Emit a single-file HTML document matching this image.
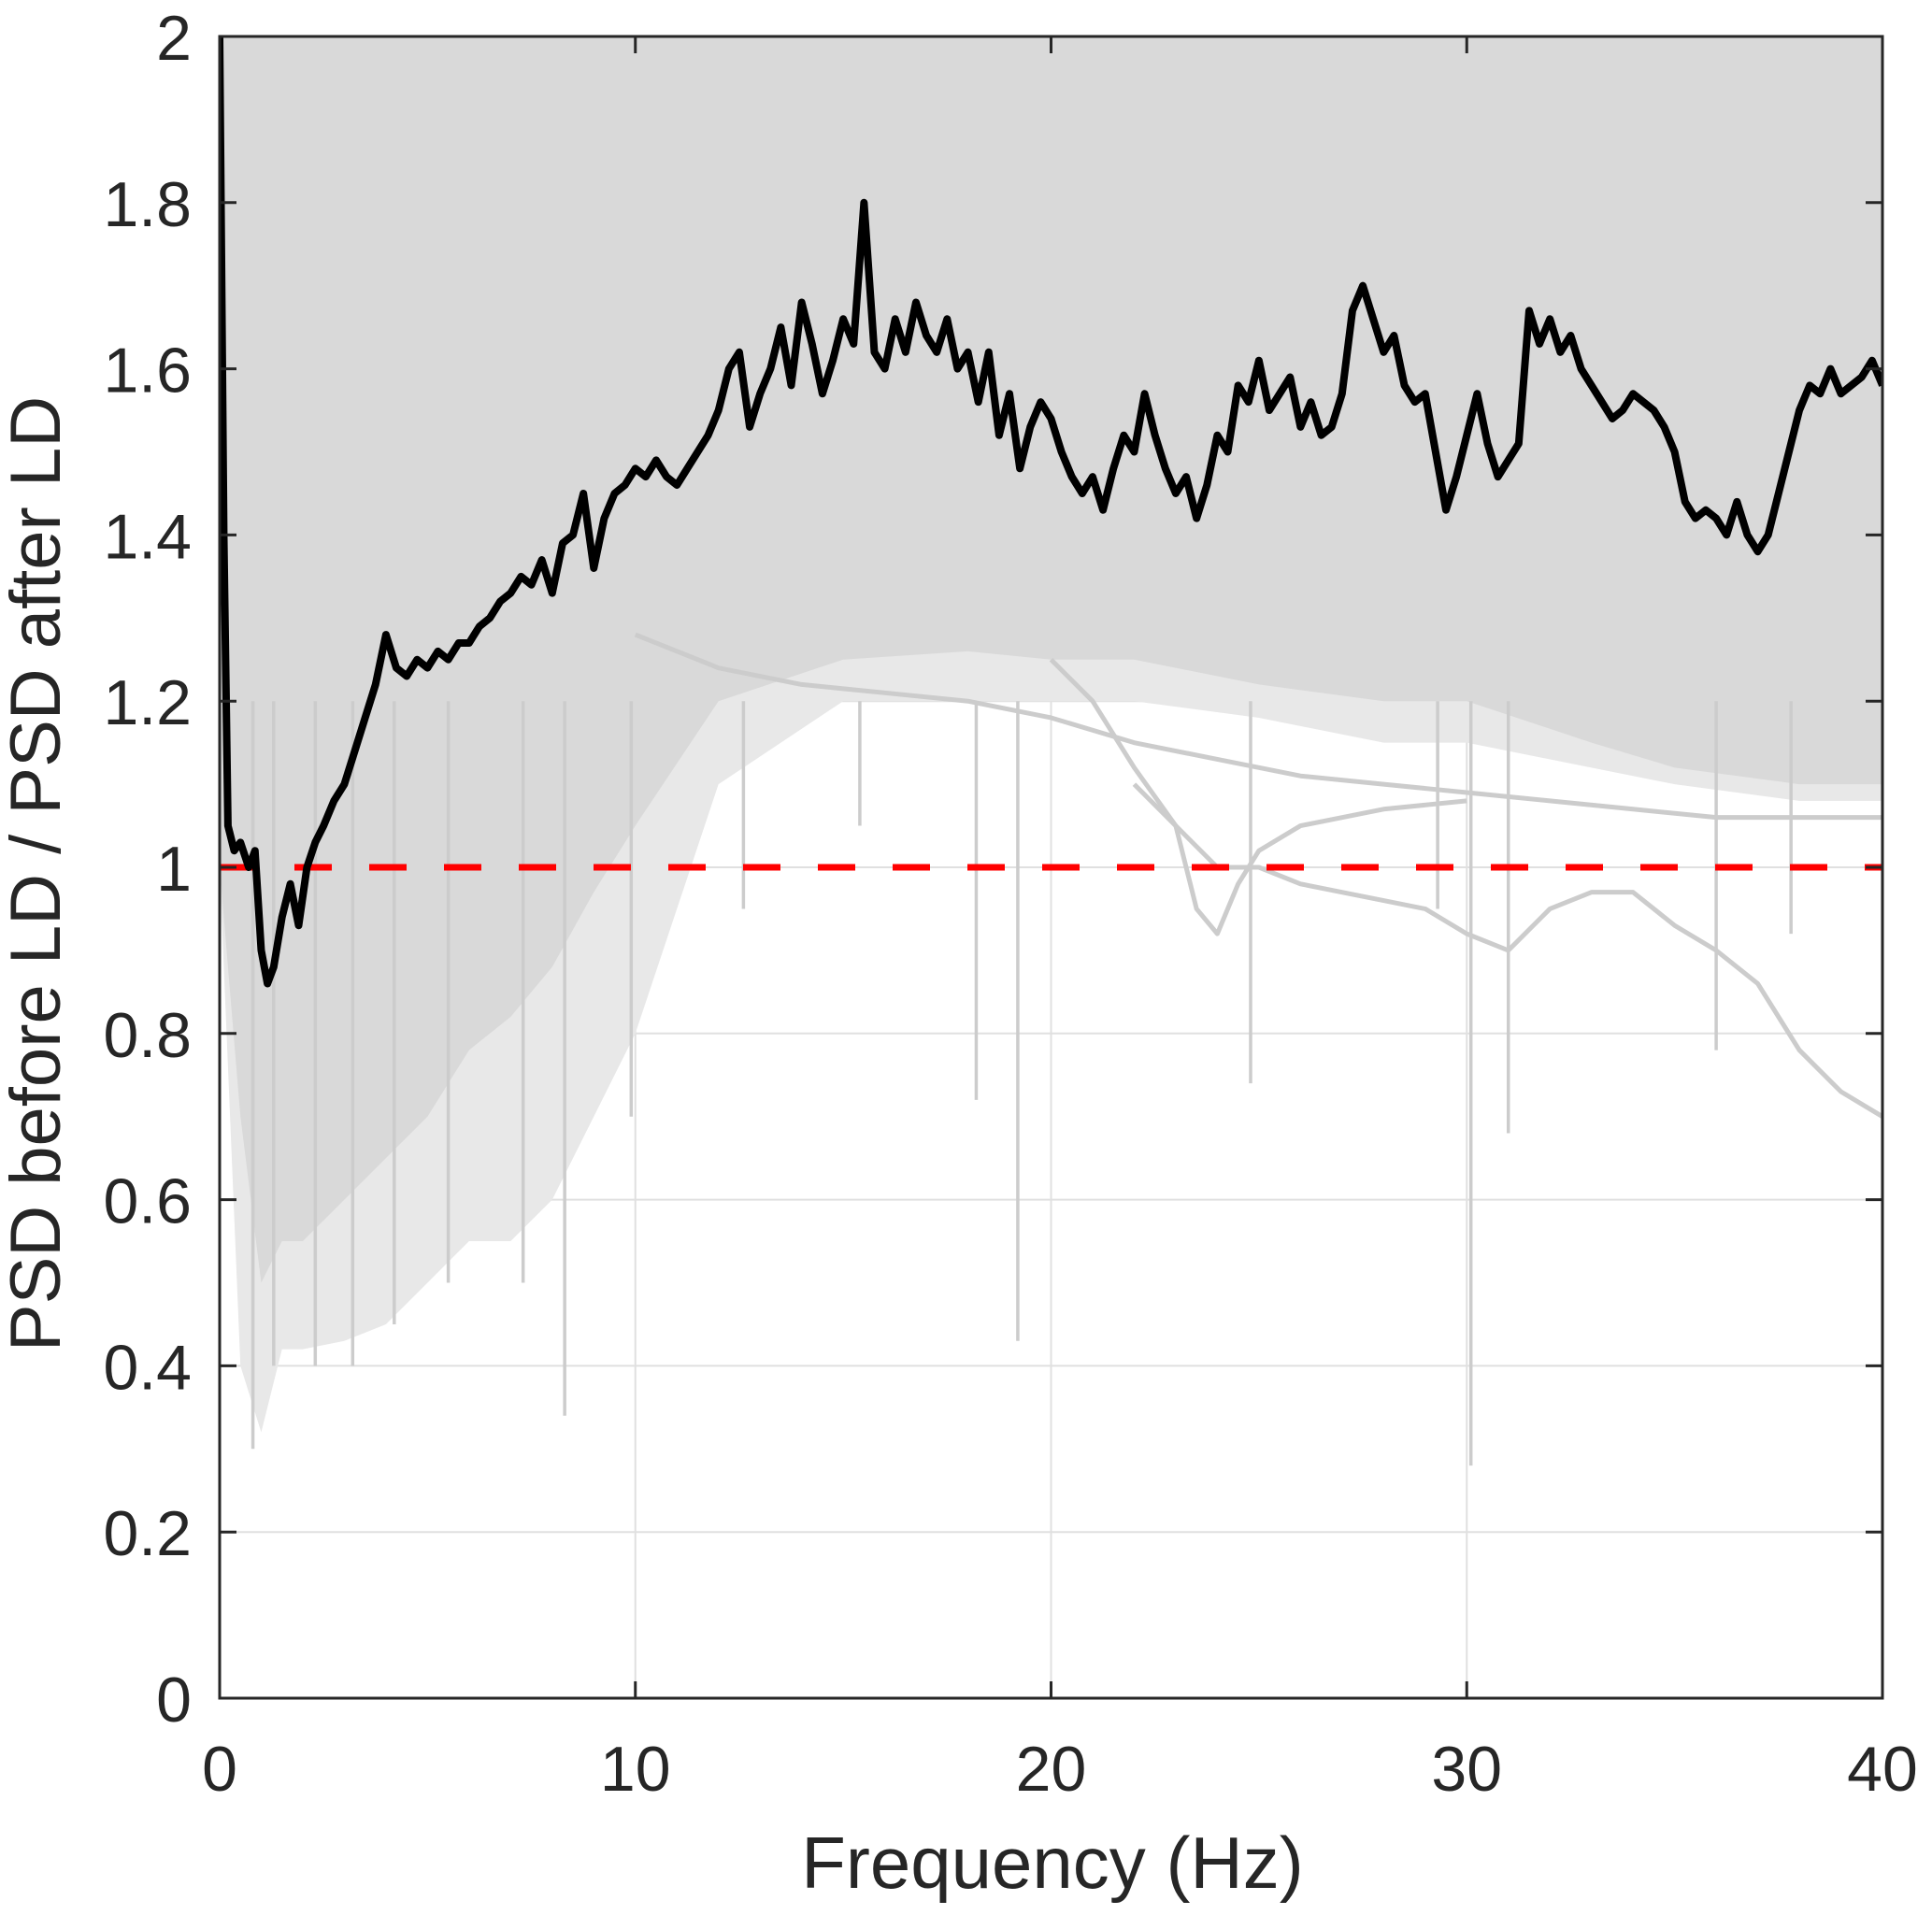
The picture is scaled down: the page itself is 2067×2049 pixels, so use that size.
<!DOCTYPE html>
<html><head><meta charset="utf-8"><style>
html,body{margin:0;padding:0;background:#fff}
svg{display:block}
text{font-family:"Liberation Sans",Arial,sans-serif;fill:#262626}
</style></head><body>
<svg id="chart" width="2067" height="2049" viewBox="0 0 2067 2049" xmlns="http://www.w3.org/2000/svg">
<rect width="2067" height="2049" fill="#fff"/>
<g id="grid"></g>
<g id="plot"></g>
<g id="axes"></g>
<text x="1126" y="2020" font-size="78" text-anchor="middle">Frequency (Hz)</text>
<text transform="translate(64,935) rotate(-90)" font-size="76" text-anchor="middle">PSD before LD / PSD after LD</text>
</svg>
<script>
const xTicks=[0,10,20,30,40];
const yTicks=[0,0.2,0.4,0.6,0.8,1,1.2,1.4,1.6,1.8,2];
const yTickLabels=["0","0.2","0.4","0.6","0.8","1","1.2","1.4","1.6","1.8","2"];
const meanFreq=[0,0.1,0.2,0.35,0.5,0.7,0.85,1.0,1.15,1.3,1.5,1.7,1.9,2.1,2.3,2.5,2.75,3,3.25,3.5,3.75,4,4.25,4.5,4.75,5,5.25,5.5,5.75,6,6.25,6.5,6.75,7,7.25,7.5,7.75,8,8.25,8.5,8.75,9,9.25,9.5,9.75,10,10.25,10.5,10.75,11,11.25,11.5,11.75,12,12.25,12.5,12.75,13,13.25,13.5,13.75,14,14.25,14.5,14.75,15,15.25,15.5,15.75,16,16.25,16.5,16.75,17,17.25,17.5,17.75,18,18.25,18.5,18.75,19,19.25,19.5,19.75,20,20.25,20.5,20.75,21,21.25,21.5,21.75,22,22.25,22.5,22.75,23,23.25,23.5,23.75,24,24.25,24.5,24.75,25,25.25,25.5,25.75,26,26.25,26.5,26.75,27,27.25,27.5,27.75,28,28.25,28.5,28.75,29,29.25,29.5,29.75,30,30.25,30.5,30.75,31,31.25,31.5,31.75,32,32.25,32.5,32.75,33,33.25,33.5,33.75,34,34.25,34.5,34.75,35,35.25,35.5,35.75,36,36.25,36.5,36.75,37,37.25,37.5,37.75,38,38.25,38.5,38.75,39,39.25,39.5,39.75,40];
const meanValues=[2.0,1.4,1.05,1.02,1.03,1.0,1.02,0.9,0.86,0.88,0.94,0.98,0.93,1.0,1.03,1.05,1.08,1.1,1.14,1.18,1.22,1.28,1.24,1.23,1.25,1.24,1.26,1.25,1.27,1.27,1.29,1.3,1.32,1.33,1.35,1.34,1.37,1.33,1.39,1.40,1.45,1.36,1.42,1.45,1.46,1.48,1.47,1.49,1.47,1.46,1.48,1.50,1.52,1.55,1.60,1.62,1.53,1.57,1.60,1.65,1.58,1.68,1.63,1.57,1.61,1.66,1.63,1.80,1.62,1.60,1.66,1.62,1.68,1.64,1.62,1.66,1.60,1.62,1.56,1.62,1.52,1.57,1.48,1.53,1.56,1.54,1.50,1.47,1.45,1.47,1.43,1.48,1.52,1.50,1.57,1.52,1.48,1.45,1.47,1.42,1.46,1.52,1.50,1.58,1.56,1.61,1.55,1.57,1.59,1.53,1.56,1.52,1.53,1.57,1.67,1.70,1.66,1.62,1.64,1.58,1.56,1.57,1.50,1.43,1.47,1.52,1.57,1.51,1.47,1.49,1.51,1.67,1.63,1.66,1.62,1.64,1.60,1.58,1.56,1.54,1.55,1.57,1.56,1.55,1.53,1.50,1.44,1.42,1.43,1.42,1.40,1.44,1.40,1.38,1.40,1.45,1.50,1.55,1.58,1.57,1.60,1.57,1.58,1.59,1.61,1.58];
const envFreq=[0,0.5,1,1.5,2,3,4,5,6,7,8,9,10,12,15,18,20,22,25,28,30,33,35,38,40];
const envUpper=[2,2,2,2,2,2,2,2,2,2,2,2,2,2,2,2,2,2,2,2,2,2,2,2,2];
const envDenseLower=[1.0,0.7,0.5,0.55,0.55,0.6,0.65,0.7,0.78,0.82,0.88,0.97,1.05,1.2,1.25,1.26,1.25,1.25,1.22,1.2,1.2,1.15,1.12,1.1,1.1];
const envSparseLower=[1.0,0.4,0.32,0.42,0.42,0.43,0.45,0.5,0.55,0.55,0.6,0.7,0.8,1.1,1.2,1.2,1.2,1.2,1.18,1.15,1.15,1.12,1.1,1.08,1.08];
const flatFreq=[10,12,14,16,18,20,22,24,26,28,30,32,34,36,38,40];
const flatValues=[1.28,1.24,1.22,1.21,1.2,1.18,1.15,1.13,1.11,1.1,1.09,1.08,1.07,1.06,1.06,1.06];
const declFreq=[22,23,24,25,26,27,28,29,30,31,32,33,34,35,36,37,38,39,40];
const declValues=[1.1,1.05,1.0,1.0,0.98,0.97,0.96,0.95,0.92,0.9,0.95,0.97,0.97,0.93,0.9,0.86,0.78,0.73,0.7];
const dipFreq=[20,21,22,23,23.5,24,24.5,25,26,27,28,30];
const dipValues=[1.25,1.2,1.12,1.05,0.95,0.92,0.98,1.02,1.05,1.06,1.07,1.08];
const spikeFreq=[0.8,1.3,2.3,3.2,4.2,5.5,7.3,8.3,9.9,12.6,15.4,18.2,19.2,24.8,29.3,30.1,31,36,37.8];
const spikeMin=[0.3,0.4,0.4,0.4,0.45,0.5,0.5,0.34,0.7,0.95,1.05,0.72,0.43,0.74,0.95,0.28,0.68,0.78,0.92];

const L=235,R=2014,T=39,B=1817,NS="http://www.w3.org/2000/svg";
const xs=f=>L+(f/40)*(R-L);
const ys=v=>B-(v/2)*(B-T);
function mk(tag,attrs,parent){const e=document.createElementNS(NS,tag);for(const k in attrs)e.setAttribute(k,attrs[k]);parent.appendChild(e);return e;}
const grid=document.getElementById('grid'),plot=document.getElementById('plot'),axes=document.getElementById('axes');
const clip=mk('clipPath',{id:'clp'},document.getElementById('chart'));
mk('rect',{x:L,y:T,width:R-L,height:B-T},clip);
plot.setAttribute('clip-path','url(#clp)');

xTicks.forEach(t=>{const g=mk('line',{x1:xs(t),x2:xs(t),y1:T,y2:B,stroke:'#e0e0e0','stroke-width':2},grid);

});
yTicks.forEach(t=>{const g=mk('line',{x1:L,x2:R,y1:ys(t),y2:ys(t),stroke:'#e0e0e0','stroke-width':2},grid);

});

function poly(fr,up,lo){let p=fr.map((f,i)=>xs(f)+','+ys(up[i]));for(let i=fr.length-1;i>=0;i--)p.push(xs(fr[i])+','+ys(lo[i]));return p.join(' ');}
const sp=mk('polygon',{points:poly(envFreq,envUpper,envSparseLower),fill:'#e8e8e8'},plot);


const dn=mk('polygon',{points:poly(envFreq,envUpper,envDenseLower),fill:'#d9d9d9'},plot);



function line(fr,vals,stroke,w,name){const e=mk('polyline',{points:fr.map((f,i)=>xs(f)+','+ys(vals[i])).join(' '),fill:'none',stroke:stroke,'stroke-width':w,'stroke-linejoin':'round'},plot);

return e;}
line(flatFreq,flatValues,'#cccccc',5,'grey-trace-flat');
line(declFreq,declValues,'#cccccc',5,'grey-trace-declining');
line(dipFreq,dipValues,'#cccccc',5,'grey-trace-dip');
spikeFreq.forEach((f,i)=>{const s=mk('line',{x1:xs(f),x2:xs(f),y1:ys(1.2),y2:ys(spikeMin[i]),stroke:'#cccccc','stroke-width':3.5},plot);

});

const ref=mk('line',{x1:L,x2:R,y1:ys(1),y2:ys(1),stroke:'#ff0000','stroke-width':7,'stroke-dasharray':'40 40'},plot);


line(meanFreq,meanValues,'#000',8,'mean-ratio-line');

const box=mk('rect',{x:L,y:T,width:R-L,height:B-T,fill:'none',stroke:'#262626','stroke-width':3},axes);


xTicks.forEach(t=>{
 mk('line',{x1:xs(t),x2:xs(t),y1:B,y2:B-18,stroke:'#262626','stroke-width':3},axes);
 mk('line',{x1:xs(t),x2:xs(t),y1:T,y2:T+18,stroke:'#262626','stroke-width':3},axes);
 const tx=mk('text',{x:xs(t),y:1916,'font-size':68,'text-anchor':'middle'},axes);tx.textContent=t;
 
 
});
yTicks.forEach((t,i)=>{
 mk('line',{x1:L,x2:L+18,y1:ys(t),y2:ys(t),stroke:'#262626','stroke-width':3},axes);
 mk('line',{x1:R,x2:R-18,y1:ys(t),y2:ys(t),stroke:'#262626','stroke-width':3},axes);
 const tx=mk('text',{x:205,y:ys(t)+25,'font-size':68,'text-anchor':'end'},axes);tx.textContent=yTickLabels[i];
 
 
});
</script>
</body></html>
